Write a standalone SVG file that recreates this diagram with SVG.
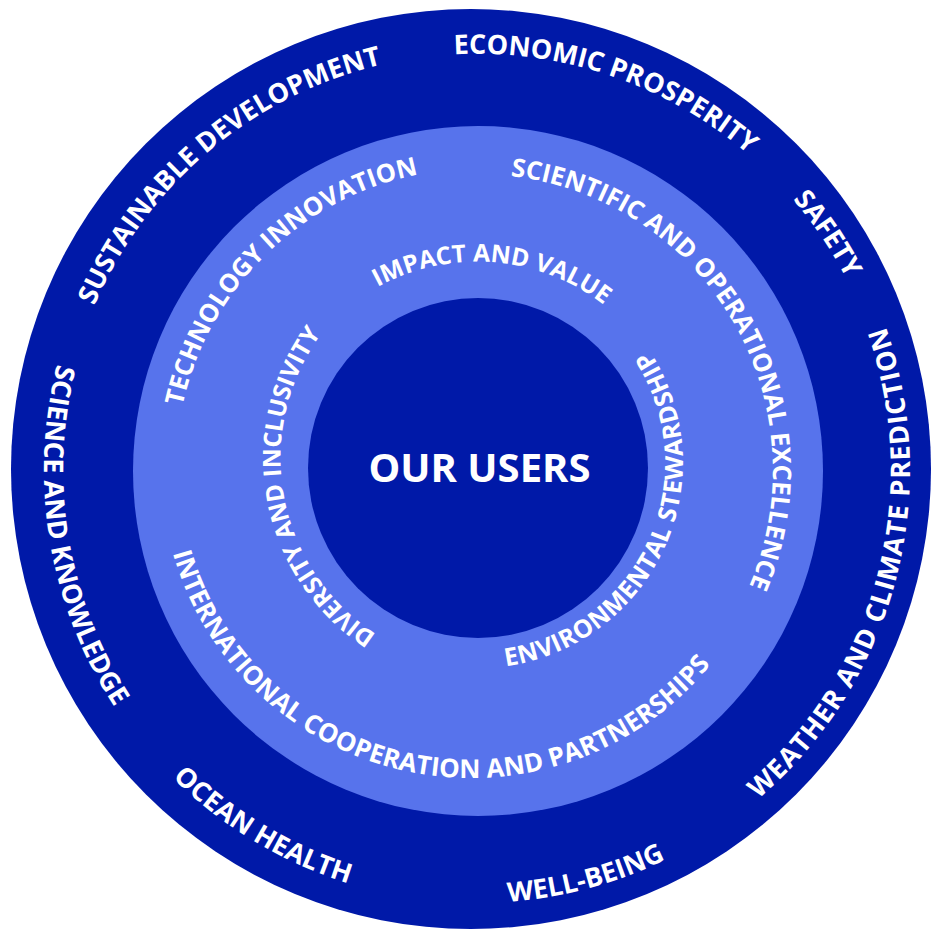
<svg xmlns="http://www.w3.org/2000/svg" width="931" height="934" viewBox="0 0 931 934">
<style>
.dark{fill:#0019A8}
.light{fill:#5773EC}
.t{fill:#FFFFFF;font-family:"Open Sans","Noto Sans","Liberation Sans",sans-serif;font-weight:700;text-anchor:middle}
.o{font-size:27px}
.m{font-size:25.5px}
.i{font-size:24.5px}
</style>
<defs>
<path id="p-sd" d="M136.2,708.6 A416,416 0 0 1 771.2,175.8"/>
<path id="p-ep" d="M96.2,302.5 A416,416 0 0 1 881.1,568.9"/>
<path id="p-sa" d="M275.3,106.2 A416,416 0 0 1 738.8,793.3"/>
<path id="p-wc" d="M401.8,896.4 A433,433 0 0 0 625.1,63.1"/>
<path id="p-wb" d="M70.1,618.1 A433,433 0 0 0 903.4,394.8"/>
<path id="p-oh" d="M87.8,280.2 A433,433 0 0 0 827.3,724.5"/>
<path id="p-sk" d="M405.5,42.9 A433,433 0 0 0 548.5,897.1"/>
<path id="p-ti" d="M244.7,661.5 A301,301 0 0 1 672.5,241.1"/>
<path id="p-so" d="M351,202.2 A296,296 0 0 1 647.6,711.9"/>
<path id="p-ic" d="M167.4,405.1 A310,310 0 0 0 774.6,530.9"/>
<path id="p-iv" d="M271.8,435.7 A208,208 0 0 1 685,468.2"/>
<path id="p-di" d="M510.8,667.1 A210,210 0 0 1 435.2,255.5"/>
<path id="p-es" d="M395.9,651.4 A205.5,205.5 0 0 0 565.3,277"/>
</defs>
<g id="outer-ring">
<circle class="dark" cx="471" cy="469" r="460"/>
<text class="t o"><textPath href="#p-sd" startOffset="50%">SUSTAINABLE DEVELOPMENT</textPath></text>
<text class="t o"><textPath href="#p-ep" startOffset="50%">ECONOMIC PROSPERITY</textPath></text>
<text class="t o"><textPath href="#p-sa" startOffset="50%">SAFETY</textPath></text>
<text class="t o" letter-spacing="1"><textPath href="#p-wc" startOffset="50%">WEATHER AND CLIMATE PREDICTION</textPath></text>
<text class="t o"><textPath href="#p-wb" startOffset="50%">WELL-BEING</textPath></text>
<text class="t o"><textPath href="#p-oh" startOffset="50%">OCEAN HEALTH</textPath></text>
<text class="t o"><textPath href="#p-sk" startOffset="50%">SCIENCE AND KNOWLEDGE</textPath></text>
</g>
<g id="middle-ring">
<circle class="light" cx="478" cy="471" r="345"/>
<text class="t m"><textPath href="#p-ti" startOffset="50%">TECHNOLOGY INNOVATION</textPath></text>
<text class="t m"><textPath href="#p-so" startOffset="50%">SCIENTIFIC AND OPERATIONAL EXCELLENCE</textPath></text>
<text class="t" font-size="26"><textPath href="#p-ic" startOffset="50%">INTERNATIONAL COOPERATION AND PARTNERSHIPS</textPath></text>
</g>
<g id="our-users">
<circle class="dark" cx="478" cy="468" r="170"/>
<text class="t" x="479.5" y="482" font-size="40">OUR USERS</text>
</g>
<g id="inner-ring">
<text class="t i"><textPath href="#p-iv" startOffset="50%">IMPACT AND VALUE</textPath></text>
<text class="t i"><textPath href="#p-di" startOffset="50%">DIVERSITY AND INCLUSIVITY</textPath></text>
<text class="t" font-size="25" letter-spacing="0.5"><textPath href="#p-es" startOffset="50%">ENVIRONMENTAL STEWARDSHIP</textPath></text>
</g>
<g id="connectors"/>
</svg>
